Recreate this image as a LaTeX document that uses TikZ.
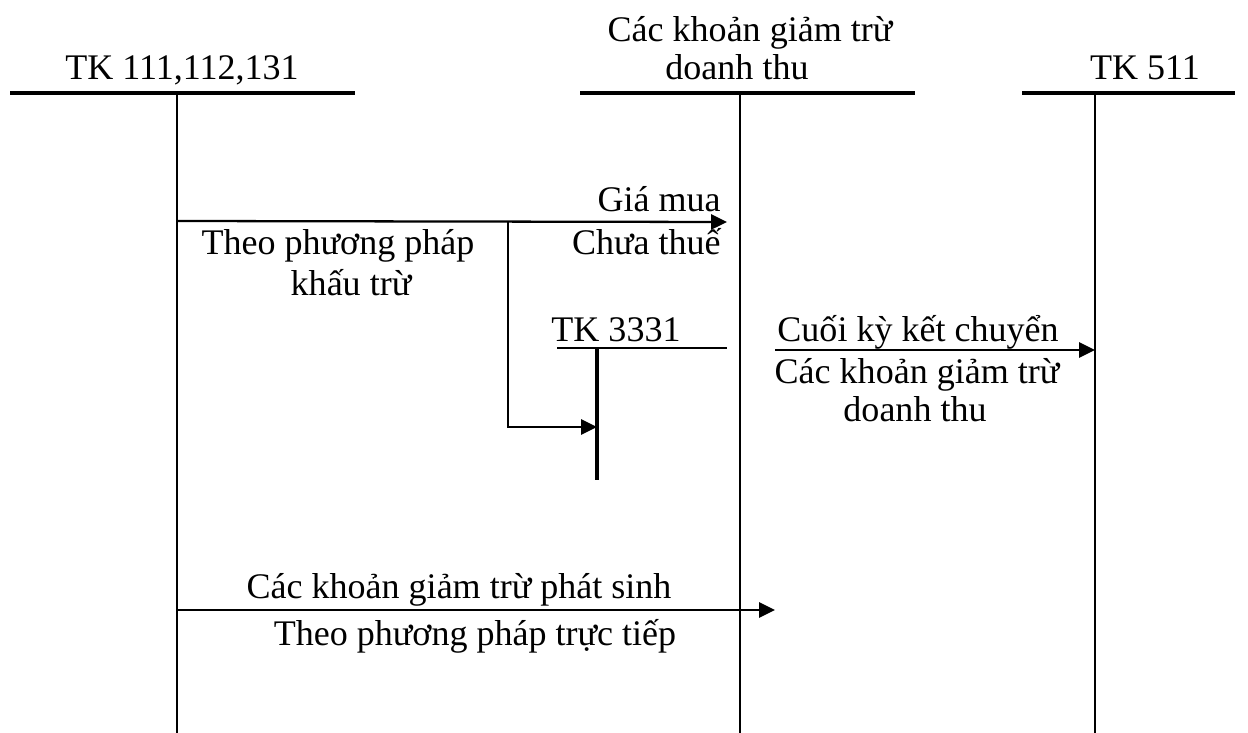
\documentclass[tikz,border=0pt]{standalone}
\usepackage{fontspec}
\setmainfont{Liberation Serif}
\usetikzlibrary{arrows.meta,positioning}

\begin{document}
\begin{tikzpicture}[x=0.02cm,y=-0.02cm,
        lbl/.style={inner sep=0pt, anchor=base, font=\fontsize{20.5}{24}\selectfont},
        acctop/.style={line width=1.8pt},
        accleg/.style={line width=1.3pt},
        post/.style={line width=1.3pt, -{Triangle[length=9pt,width=8.5pt]}}]
    \useasboundingbox (0,0) rectangle (1248,733);

    % T accounts
    \node[lbl] (tien) at (182,80) {TK 111,112,131};
    \node[lbl] (giam1) at (750,42) {Các khoản giảm trừ};
    \node[lbl] (giam2) at (737,80) {doanh thu};
    \node[lbl] (dt) at (1145,80) {TK 511};
    \node[lbl] (vat) at (616,341) {TK 3331};

    \coordinate (tienL) at (10,93);   \coordinate (tienR) at (355,93);
    \coordinate (giamL) at (580,93);  \coordinate (giamR) at (915,93);
    \coordinate (dtL) at (1022,93);   \coordinate (dtR) at (1235,93);
    \coordinate (vatL) at (557,348);  \coordinate (vatR) at (727,348);

    \coordinate (tienT) at (177,93);  \coordinate (tienB) at (177,733);
    \coordinate (giamT) at (740,93);  \coordinate (giamB) at (740,733);
    \coordinate (dtT) at (1095,93);   \coordinate (dtB) at (1095,733);
    \coordinate (vatT) at (597,348);  \coordinate (vatB) at (597,480);

    \draw[acctop] (tienL) -- (tienR);
    \draw[acctop] (giamL) -- (giamR);
    \draw[acctop] (dtL) -- (dtR);
    \draw[accleg] (vatL) -- (vatR);
    \draw[accleg] (tienT) -- (tienB);
    \draw[accleg] (giamT) -- (giamB);
    \draw[accleg] (dtT) -- (dtB);
    \draw[line width=1.8pt] (vatT) -- (vatB);

    % khau tru
    \coordinate (kt1) at (177,221);
    \coordinate (kt2) at (727,222);
    \coordinate (ktn) at (508,221);
    \coordinate (ktv) at (508,427);
    \coordinate (ktx) at (597,427);
    \draw[post] (kt1) -- (kt2);
    \draw[post] (ktn) -- (ktv) -- (ktx);
    \node[lbl, anchor=base east] (giamua) at (721,212) {Giá mua};
    \node[lbl, anchor=base east] (chuathue) at (721,255) {Chưa thuế};
    \node[lbl] (theopp) at (338,255) {Theo phương pháp};
    \node[lbl] (khautru) at (351,296) {khấu trừ};

    % ket chuyen
    \coordinate (kc1) at (775,350);
    \coordinate (kc2) at (1095,350);
    \draw[post] (kc1) -- (kc2);
    \node[lbl] (cuoiky) at (918,341) {Cuối kỳ kết chuyển};
    \node[lbl] (cackhoan) at (917,383) {Các khoản giảm trừ};
    \node[lbl] (dthu) at (915,421) {doanh thu};

    % truc tiep
    \coordinate (tt1) at (177,610);
    \coordinate (tt2) at (775,610);
    \draw[post] (tt1) -- (tt2);
    \node[lbl] (phatsinh) at (459,598) {Các khoản giảm trừ phát sinh};
    \node[lbl] (tructiep) at (475,645) {Theo phương pháp trực tiếp};
\end{tikzpicture}
\end{document}
